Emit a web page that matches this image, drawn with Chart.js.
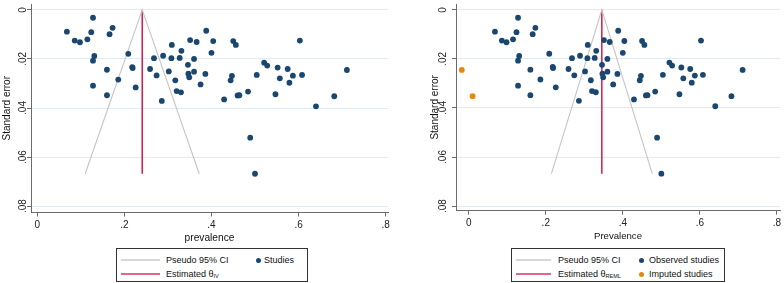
<!DOCTYPE html>
<html>
<head>
<meta charset="utf-8">
<title>Funnel plots</title>
<script src="https://cdn.jsdelivr.net/npm/chart.js@4.4.1/dist/chart.umd.min.js"></script>
<style>
    body { margin: 0; background: #fff; }
    #wrap { position: relative; width: 784px; height: 283px; font-family: "Liberation Sans", Arial, sans-serif; }
    .panel { position: absolute; top: 0; width: 392px; height: 283px; }
    .legend { position: absolute; top: 248px; height: 34px; border: 1px solid #333; box-sizing: border-box; font-size: 9px; color: #111; background: #fff; }
    .legend .item { position: absolute; white-space: nowrap; line-height: 10px; }
    .legend .line { position: absolute; height: 2px; }
    .legend .dot { position: absolute; width: 5px; height: 5px; border-radius: 50%; }
    .legend sub { font-size: 5.5px; vertical-align: -1px; }
</style>
</head>
<body>
<div id="wrap">
    <div class="panel" style="left:0">
        <canvas id="funnelIV" width="392" height="283"></canvas>
        <div class="legend" style="left:116px; width:192px">
            <div class="line" style="left:4px; top:10px; width:39px; background:#d8d8d8"></div>
            <div class="item" style="left:49px; top:6px">Pseudo 95% CI</div>
            <div class="dot" style="left:139px; top:9px; background:#1a476f"></div>
            <div class="item" style="left:147px; top:6px">Studies</div>
            <div class="line" style="left:4px; top:24px; width:39px; background:#e0698b"></div>
            <div class="item" style="left:49px; top:20px">Estimated θ<sub>IV</sub></div>
        </div>
    </div>
    <div class="panel" style="left:392px">
        <canvas id="funnelREML" width="392" height="283"></canvas>
        <div class="legend" style="left:119px; width:214px">
            <div class="line" style="left:4px; top:10px; width:35px; background:#d8d8d8"></div>
            <div class="item" style="left:46px; top:6px">Pseudo 95% CI</div>
            <div class="dot" style="left:127px; top:9px; background:#1a476f"></div>
            <div class="item" style="left:137px; top:6px">Observed studies</div>
            <div class="line" style="left:4px; top:24px; width:35px; background:#e0698b"></div>
            <div class="item" style="left:46px; top:20px">Estimated θ<sub>REML</sub></div>
            <div class="dot" style="left:127px; top:23px; background:#e8860c"></div>
            <div class="item" style="left:137px; top:20px">Imputed studies</div>
        </div>
    </div>
</div>
<script>
// axis ticks
const xTicks = [0, 0.2, 0.4, 0.6, 0.8];
const seTicks = [0, 0.02, 0.04, 0.06, 0.08];

// observed studies
const prevalence = [0.068, 0.086, 0.098, 0.115, 0.124, 0.128, 0.131, 0.128, 0.128, 0.160,
    0.160, 0.166, 0.173, 0.186, 0.209, 0.218, 0.219, 0.226, 0.259, 0.268,
    0.274, 0.286, 0.289, 0.302, 0.309, 0.308, 0.317, 0.320, 0.330, 0.327,
    0.331, 0.346, 0.347, 0.349, 0.351, 0.360, 0.360, 0.366, 0.375, 0.386,
    0.388, 0.400, 0.404, 0.429, 0.444, 0.447, 0.450, 0.456, 0.460, 0.464,
    0.484, 0.489, 0.500, 0.504, 0.521, 0.528, 0.547, 0.552, 0.557, 0.575,
    0.579, 0.587, 0.603, 0.608, 0.640, 0.682, 0.711];
const stdError = [0.0089, 0.0125, 0.0132, 0.0120, 0.0091, 0.0032, 0.0188, 0.0207, 0.0309, 0.0244,
    0.0348, 0.0099, 0.0073, 0.0284, 0.0179, 0.0233, 0.0237, 0.0316, 0.0241, 0.0197,
    0.0267, 0.0371, 0.0187, 0.0251, 0.0143, 0.0197, 0.0287, 0.0331, 0.0336, 0.0196,
    0.0167, 0.0224, 0.0260, 0.0275, 0.0123, 0.0200, 0.0252, 0.0131, 0.0304, 0.0261,
    0.0085, 0.0175, 0.0127, 0.0365, 0.0287, 0.0269, 0.0127, 0.0143, 0.0349, 0.0348,
    0.0333, 0.0521, 0.0668, 0.0265, 0.0215, 0.0227, 0.0344, 0.0235, 0.0279, 0.0241,
    0.0297, 0.0268, 0.0125, 0.0265, 0.0393, 0.0352, 0.0245];

// trim-and-fill imputed studies
const imputedPrevalence = [-0.018, 0.010];
const imputedStdError = [0.0245, 0.0352];

// pooled estimates
const thetaIV = 0.241;
const thetaREML = 0.3455;

const FONT = '"Liberation Sans", Arial, sans-serif';
const seMax = Math.max(...stdError);

function toPoints(xs, ys) {
    return xs.map((x, i) => ({ x: x, y: ys[i] }));
}

function fmtTick(v) {
    if (v === 0) return '0';
    return String(Math.round(v * 100) / 100).replace(/^0/, '');
}

function makeFunnel(canvasId, cfg) {
    const datasets = [{
        label: 'Studies',
        data: toPoints(prevalence, stdError),
        backgroundColor: '#1a476f',
        borderWidth: 0,
        pointRadius: 2.9
    }];

    if (cfg.imputed) {
        datasets.push({
            label: 'Imputed studies',
            data: toPoints(imputedPrevalence, imputedStdError),
            backgroundColor: '#e8860c',
            borderWidth: 0,
            pointRadius: 2.9
        });
    }

    // pseudo 95% confidence limits
    datasets.push({
        label: 'Pseudo 95% CI',
        data: [
            { x: cfg.theta - 1.96 * seMax, y: seMax },
            { x: cfg.theta, y: 0 },
            { x: cfg.theta + 1.96 * seMax, y: seMax }
        ],
        showLine: true,
        borderColor: '#c4c4c4',
        borderWidth: 1.1,
        pointRadius: 0
    });

    datasets.push({
        label: 'Estimated theta',
        data: [{ x: cfg.theta, y: 0 }, { x: cfg.theta, y: seMax }],
        showLine: true,
        borderColor: '#d7194b',
        borderWidth: 1.5,
        pointRadius: 0
    });

    const ctx = document.getElementById(canvasId).getContext('2d');
    return new Chart(ctx, {
        type: 'scatter',
        data: { datasets: datasets },
        options: {
            responsive: false,
            animation: false,
            devicePixelRatio: 1,
            layout: { padding: { left: cfg.padLeft, right: cfg.padRight, top: 0, bottom: cfg.padBottom } },
            plugins: { legend: { display: false }, tooltip: { enabled: false } },
            scales: {
                x: {
                    type: 'linear',
                    min: cfg.xMin,
                    max: cfg.xMax,
                    afterBuildTicks: s => { s.ticks = xTicks.map(v => ({ value: v })); },
                    afterFit: s => { s.height = cfg.xAxisHeight; s.paddingLeft = 0; s.paddingRight = 0; },
                    ticks: {
                        callback: v => fmtTick(v),
                        color: '#222',
                        padding: cfg.xTickPad,
                        maxRotation: 0,
                        autoSkip: false,
                        font: { family: FONT, size: 10 }
                    },
                    grid: { drawOnChartArea: false, tickLength: 4, tickColor: '#6b6b6b' },
                    border: { color: '#6b6b6b', width: 1 },
                    title: {
                        display: true,
                        text: cfg.xTitle,
                        color: '#111',
                        padding: 0,
                        font: { family: FONT, size: cfg.titleSize }
                    }
                },
                y: {
                    type: 'linear',
                    reverse: true,
                    min: -0.0024,
                    max: cfg.yMax,
                    afterBuildTicks: s => { s.ticks = seTicks.map(v => ({ value: v })); },
                    afterFit: s => { s.width = cfg.yAxisWidth; s.paddingTop = 0; s.paddingBottom = 0; },
                    ticks: {
                        callback: v => fmtTick(v),
                        color: '#222',
                        minRotation: 90,
                        maxRotation: 90,
                        crossAlign: 'center',
                        padding: cfg.yTickPad,
                        font: { family: FONT, size: 10 }
                    },
                    grid: { color: '#e3ebf0', lineWidth: 1, tickLength: 4, tickColor: '#6b6b6b' },
                    border: { color: '#6b6b6b', width: 1 },
                    title: {
                        display: true,
                        text: 'Standard error',
                        color: '#111',
                        padding: { top: 1, bottom: 0 },
                        font: { family: FONT, size: 10 }
                    }
                }
            }
        }
    });
}

makeFunnel('funnelIV', {
    theta: thetaIV,
    imputed: false,
    xTitle: 'prevalence',
    titleSize: 10.2,
    xMin: -0.0144,
    xMax: 0.8054,
    yMax: 0.0826,
    padLeft: 0,
    padRight: 3,
    padBottom: 38.5,
    xAxisHeight: 32,
    yAxisWidth: 31,
    xTickPad: 3,
    yTickPad: -3.6
});

makeFunnel('funnelREML', {
    theta: thetaREML,
    imputed: true,
    xTitle: 'Prevalence',
    titleSize: 9.6,
    xMin: -0.0331,
    xMax: 0.8081,
    yMax: 0.0819,
    padLeft: 36,
    padRight: 3,
    padBottom: 41.3,
    xAxisHeight: 31,
    yAxisWidth: 28,
    xTickPad: 2.5,
    yTickPad: 1.3
});
</script>
</body>
</html>
